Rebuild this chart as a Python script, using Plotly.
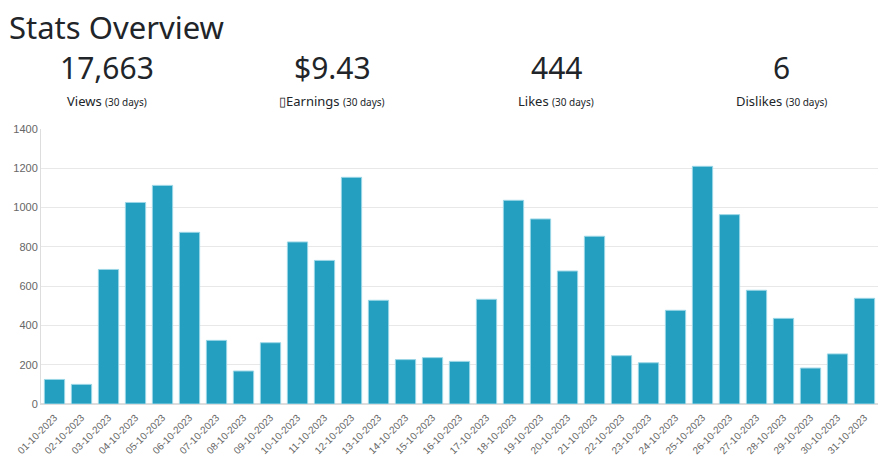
import plotly.graph_objects as go

dates = [f"{d:02d}-10-2023" for d in range(1, 32)]
views = [125, 100, 685, 1026, 1113, 874, 324, 168, 312, 825,
         731, 1154, 528, 226, 236, 217, 533, 1037, 942, 677,
         854, 246, 210, 477, 1210, 964, 579, 436, 183, 255, 538]

stat_values = ["17,663", "$9.43", "444", "6"]
stat_labels = ["Views", "\u25afEarnings", "Likes", "Dislikes"]
stat_suffix = "(30 days)"
y_ticks = [0, 200, 400, 600, 800, 1000, 1200, 1400]

fig = go.Figure()
fig.add_trace(go.Bar(
    x=dates, y=views,
    marker=dict(color="#249fbf", line=dict(color="#9ad6e6", width=1)),
))

head_font = "Noto Sans, Open Sans, sans-serif"
W, H = 889, 458
ml, mr, mt, mb = 41, 11, 129, 54
ph = H - mt - mb
pw = W - ml - mr


def px_x(px):
    return (px - ml) / pw


def px_y(py):
    return (H - py - mb) / ph


annotations = [dict(
    text="Stats Overview", x=px_x(7), y=px_y(4), xref="paper", yref="paper",
    showarrow=False, xanchor="left", yanchor="top",
    font=dict(family=head_font, size=31, color="#212529"))]

col_centers = [107, 332, 556, 781]
for c, v, l in zip(col_centers, stat_values, stat_labels):
    annotations.append(dict(
        text=v, x=px_x(c), y=px_y(67), xref="paper", yref="paper", showarrow=False,
        xanchor="center", yanchor="middle",
        font=dict(family=head_font, size=30, color="#212529")))
    annotations.append(dict(
        text=f"{l} <span style='font-size:10px'>{stat_suffix}</span>",
        x=px_x(c), y=px_y(101), xref="paper", yref="paper", showarrow=False,
        xanchor="center", yanchor="middle",
        font=dict(family=head_font, size=13, color="#212529")))

fig.update_layout(
    width=W, height=H,
    margin=dict(l=ml, r=mr, t=mt, b=mb, autoexpand=False),
    paper_bgcolor="white", plot_bgcolor="white",
    bargap=0.25, showlegend=False,
    annotations=annotations,
    font=dict(family="Liberation Sans, Arial, sans-serif", color="#666666"),
    xaxis=dict(
        tickangle=-45, tickfont=dict(size=10, color="#666666"), automargin=False,
        showgrid=False, showline=True, linecolor="#dddddd", linewidth=1,
        ticks="outside", ticklen=3, tickcolor="rgba(0,0,0,0)", fixedrange=True),
    yaxis=dict(
        range=[0, 1400], tickvals=y_ticks, tickfont=dict(size=11, color="#666666"),
        automargin=False,
        showgrid=True, gridcolor="#e8e8e8", showline=True, linecolor="#dddddd",
        zeroline=True, zerolinecolor="#dddddd", ticks="", ticklen=0, fixedrange=True),
)

fig.write_html("out.html", config={"displayModeBar": False})
